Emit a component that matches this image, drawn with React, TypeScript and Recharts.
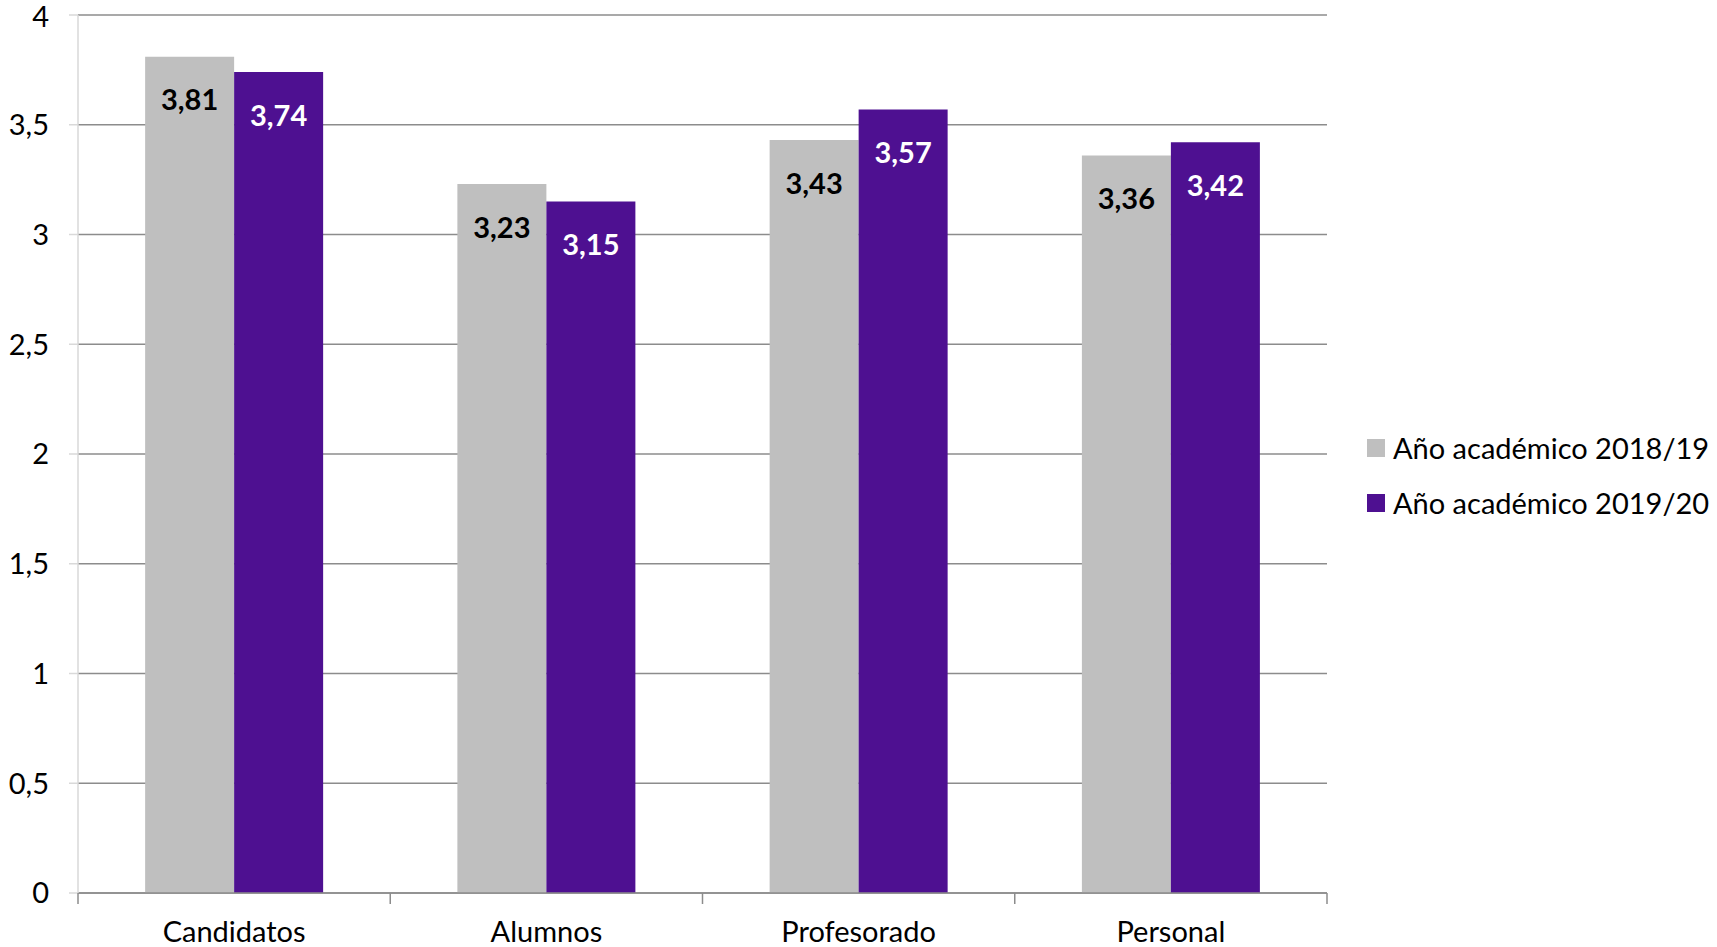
import React from 'react';
import { BarChart, Bar, XAxis, YAxis, CartesianGrid, Legend, LabelList } from 'recharts';

const categories = ['Candidatos', 'Alumnos', 'Profesorado', 'Personal'];
const serie2018 = [3.81, 3.23, 3.43, 3.36];
const serie2019 = [3.74, 3.15, 3.57, 3.42];
const seriesNames = ['Año académico 2018/19', 'Año académico 2019/20'];
const yTicks = [0, 0.5, 1, 1.5, 2, 2.5, 3, 3.5, 4];

const GRAY = '#BFBFBF';
const PURPLE = '#4E1091';
const FONT = 'Lato, "Open Sans", sans-serif';

const data = categories.map((c, i) => ({ name: c, a: serie2018[i], b: serie2019[i] }));

const fmt = (v: number, d: number) => {
  const s = d > 0 ? v.toFixed(d) : String(v);
  return s.replace('.', ',');
};

// Recharts passes y = axis line + tickSize + tickMargin; both are 0 here.
const XTick = (props: any) => {
  const { x, y, payload, index } = props;
  const off = payload.offset || 0;
  const last = index === categories.length - 1;
  return (
    <g>
      <line x1={x - off} x2={x - off} y1={y} y2={y + 11} stroke="#8C8C8C" strokeWidth={1.5} />
      {last && <line x1={x + off} x2={x + off} y1={y} y2={y + 11} stroke="#8C8C8C" strokeWidth={1.5} />}
      <text x={x} y={y + 37} textAnchor="middle" dominantBaseline="central" fontFamily={FONT} fontSize={29} fill="#000">
        {payload.value}
      </text>
    </g>
  );
};

const makeLabel = (color: string) => (props: any) => {
  const { x, y, width, value } = props;
  return (
    <text x={x + width / 2} y={y + 42} textAnchor="middle" dominantBaseline="central" fontFamily={FONT} fontWeight={700} fontSize={29} fill={color}>
      {fmt(value, 2)}
    </text>
  );
};

const LegendContent = () => (
  <div style={{ fontFamily: FONT, fontSize: 29, color: '#000' }}>
    {seriesNames.map((n, i) => (
      <div key={n} style={{ display: 'flex', alignItems: 'center', height: 55, whiteSpace: 'nowrap' }}>
        <span style={{ display: 'inline-block', width: 18, height: 18, background: i === 0 ? GRAY : PURPLE, marginRight: 8 }} />
        <span>{n}</span>
      </div>
    ))}
  </div>
);

export default function App() {
  return (
    <div style={{ position: 'absolute', left: 0, top: 0, width: 1717, height: 947, background: '#fff' }}>
      <BarChart width={1717} height={947} data={data} margin={{ top: 15, right: 390, bottom: 0, left: 0 }} barCategoryGap="21.5%" barGap={0}>
        <CartesianGrid vertical={false} stroke="#8C8C8C" strokeWidth={1.5} />
        <XAxis dataKey="name" height={54} axisLine={{ stroke: '#8C8C8C', strokeWidth: 1.5 }} tickLine={false} tickSize={0} tickMargin={0} tick={<XTick />} interval={0} />
        <YAxis
          width={78}
          domain={[0, 4]}
          ticks={yTicks}
          tickFormatter={(v: number) => fmt(v, 0)}
          axisLine={{ stroke: '#D9D9D9', strokeWidth: 1.5 }}
          tickLine={{ stroke: '#D9D9D9', strokeWidth: 1.5 }}
          tickSize={9}
          tickMargin={20}
          tick={{ fontFamily: FONT, fontSize: 29, fill: '#000' }}
        />
        <Legend layout="vertical" align="center" verticalAlign="middle" content={<LegendContent />} wrapperStyle={{ left: 1367, top: 420, width: 'auto' }} />
        <Bar dataKey="a" name={seriesNames[0]} fill={GRAY} isAnimationActive={false}>
          <LabelList dataKey="a" content={makeLabel('#000')} />
        </Bar>
        <Bar dataKey="b" name={seriesNames[1]} fill={PURPLE} isAnimationActive={false}>
          <LabelList dataKey="b" content={makeLabel('#fff')} />
        </Bar>
      </BarChart>
    </div>
  );
}
